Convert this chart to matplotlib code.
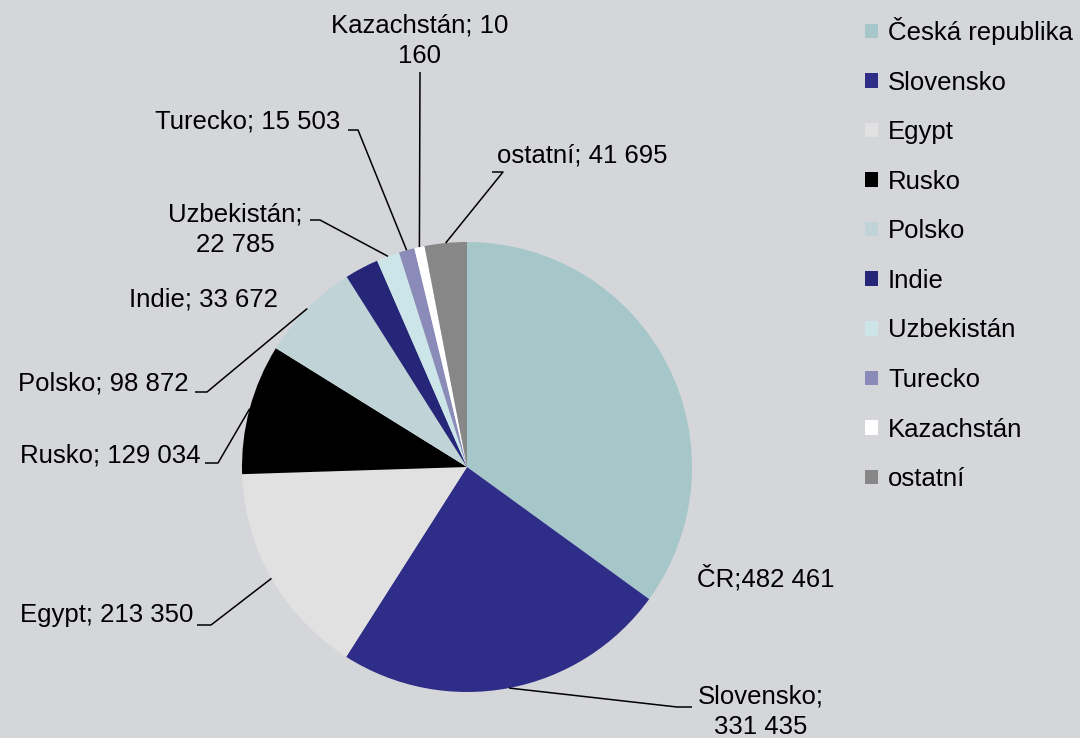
import numpy as np
import matplotlib
matplotlib.use("Agg")
import matplotlib.pyplot as plt

plt.rcParams["font.family"] = ["Liberation Sans", "DejaVu Sans"]

# ── Data ─────────────────────────────────────────────────────────────────────
countries = ["Česká republika", "Slovensko", "Egypt", "Rusko", "Polsko",
             "Indie", "Uzbekistán", "Turecko", "Kazachstán", "ostatní"]
values = [482461, 331435, 213350, 129034, 98872,
          33672, 22785, 15503, 10160, 41695]
colors = ["#A5C7C9", "#2E2D88", "#E1E1E1", "#000000", "#C0D3D6",
          "#262678", "#CBE5E8", "#8A8BB8", "#FFFFFF", "#878787"]


def fmt(v):
    return f"{v:,}".replace(",", " ")


# label texts as they appear (some wrap onto two lines)
label_texts = [
    f"ČR;{fmt(values[0])}",
    f"Slovensko;\n{fmt(values[1])}",
    f"Egypt; {fmt(values[2])}",
    f"Rusko; {fmt(values[3])}",
    f"Polsko; {fmt(values[4])}",
    f"Indie; {fmt(values[5])}",
    f"Uzbekistán;\n{fmt(values[6])}",
    f"Turecko; {fmt(values[7])}",
    "Kazachstán; 10\n160",
    f"ostatní; {fmt(values[9])}",
]

# ── Layout (figure pixels, y downwards) ──────────────────────────────────────
W, H = 1080, 738
CX, CY, R = 467, 467, 225
FS = 18.5

# text position, alignment, leader path (elbow, end) or None
label_layout = [
    ((697, 578), "left", None),
    ((761, 712), "center", [(677, 707), (692, 707)]),
    ((193, 615), "right", [(211, 625), (197, 625)]),
    ((200, 455), "right", [(218, 463), (205, 463)]),
    ((189, 383), "right", [(207, 392), (195, 392)]),
    ((278, 300), "right", None),
    ((235, 230), "center", [(320, 220), (310, 220)]),
    ((340, 122), "right", [(358, 130), (348, 130)]),
    ((420, 41), "center", [(420, 72)]),
    ((497, 155), "left", [(503, 172), (492, 172)]),
]

fig = plt.figure(figsize=(W / 100, H / 100), dpi=100)
bg = "#D5D6D9"
fig.patch.set_facecolor(bg)
ax = fig.add_axes([0, 0, 1, 1])
ax.set_facecolor(bg)

# y axis inverted -> startangle -90 / counterclock gives clockwise-from-top on screen
wedges, _ = ax.pie(values, colors=colors, startangle=-90, counterclock=True,
                   radius=R, center=(CX, CY), wedgeprops=dict(linewidth=0))

ax.set_xlim(0, W)
ax.set_ylim(H, 0)
ax.set_aspect("auto")
ax.axis("off")

# wedge mid-angles (clockwise from top) for leader anchors
vals = np.array(values, dtype=float)
cum = np.cumsum(vals) - vals / 2
mid_ang = cum / vals.sum() * 2 * np.pi

for i, txt in enumerate(label_texts):
    (tx, ty), ha, path = label_layout[i]
    ax.text(tx, ty, txt, ha=ha, va="center", fontsize=FS,
            linespacing=1.36, color="black")
    if path is not None:
        ax_x = CX + R * np.sin(mid_ang[i])
        ax_y = CY - R * np.cos(mid_ang[i])
        xs = [ax_x] + [p[0] for p in path]
        ys = [ax_y] + [p[1] for p in path]
        ax.plot(xs, ys, color="black", lw=1.1, solid_capstyle="butt")

leg = ax.legend(wedges, countries, loc="upper left",
                bbox_to_anchor=(865, 17), bbox_transform=ax.transData,
                frameon=False, fontsize=FS, handlelength=0.5, handleheight=0.5,
                handletextpad=0.4, labelspacing=0.995, borderpad=0,
                borderaxespad=0)

fig.savefig("out.png", dpi=100, facecolor=bg)
